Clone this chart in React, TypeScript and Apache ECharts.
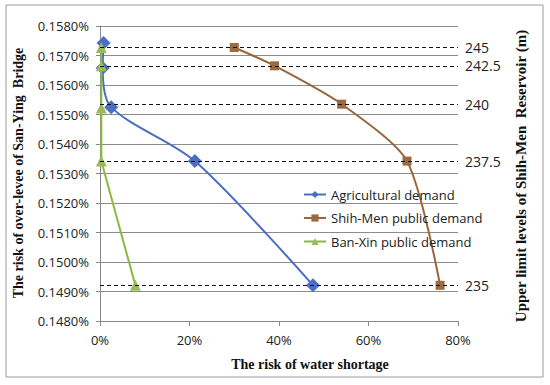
import React, { useEffect, useRef } from "react";
import * as echarts from "echarts";

// risk of water shortage (%) and risk of over-levee (%) per reservoir upper limit level
const agriX = [0.8, 0.6, 2.5, 21.2, 47.6];
const agriY = [0.15742, 0.15658, 0.15525, 0.15342, 0.14921];
const shihX = [30.0, 39.0, 54.0, 68.6, 76.0];
const shihY = [0.15727, 0.15665, 0.15535, 0.15342, 0.14921];
const banX = [0.3, 0.3, 0.3, 0.3, 7.9];
const banY = [0.15727, 0.15665, 0.15522, 0.15342, 0.14921];
const levels = ["245", "242.5", "240", "237.5", "235"];
const levelY = [0.15727, 0.15665, 0.15535, 0.15342, 0.14921];
const seriesNames = ["Agricultural demand", "Shih-Men public demand", "Ban-Xin public demand"];

const zip = (xs: number[], ys: number[]) => xs.map((x, i) => [x, ys[i]]);

export default function App() {
  const ref = useRef<HTMLDivElement>(null);
  useEffect(() => {
    if (!ref.current) return;
    const chart = echarts.init(ref.current, undefined, { renderer: "svg" });
    const tickFont = { fontFamily: "Open Sans", fontSize: 13, color: "#222" };
    const titleStyle = { fontFamily: "Liberation Serif", fontWeight: "bold" as const, fill: "#111" };
    chart.setOption({
      animation: false,
      backgroundColor: "#fff",
      grid: { left: 100, right: 92, top: 26, bottom: 64 },
      graphic: [
        {
          type: "rect",
          shape: { x: 6, y: 5, width: 537, height: 372 },
          style: { fill: "none", stroke: "#9a9a9a", lineWidth: 1 },
          silent: true,
        },
        {
          type: "text",
          x: 310,
          y: 364,
          style: { ...titleStyle, text: "The risk of water shortage", fontSize: 14, align: "center", verticalAlign: "middle" },
        },
        {
          type: "text",
          x: 18,
          y: 173,
          rotation: Math.PI / 2,
          style: { ...titleStyle, text: "The risk of over-levee of San-Ying  Bridge", fontSize: 14, align: "center", verticalAlign: "middle" },
        },
        {
          type: "text",
          x: 521,
          y: 176,
          rotation: Math.PI / 2,
          style: { ...titleStyle, text: "Upper limit levels of Shih-Men  Reservoir (m)", fontSize: 15, align: "center", verticalAlign: "middle" },
        },
      ],
      legend: {
        orient: "vertical",
        left: 298,
        top: 183,
        itemGap: 10.5,
        itemWidth: 22,
        itemHeight: 9,
        textStyle: { fontFamily: "Open Sans", fontSize: 13, color: "#222" },
        data: seriesNames,
      },
      xAxis: {
        type: "value",
        min: 0,
        max: 80,
        interval: 20,
        axisLine: { show: true, lineStyle: { color: "#888" } },
        axisTick: { show: true, length: 5, lineStyle: { color: "#888" } },
        axisLabel: { ...tickFont, formatter: "{value}%", margin: 12 },
        splitLine: { show: false },
      },
      yAxis: {
        type: "value",
        min: 0.148,
        max: 0.158,
        interval: 0.001,
        axisLine: { show: true, lineStyle: { color: "#888" } },
        axisTick: { show: true, length: 4, lineStyle: { color: "#888" } },
        axisLabel: { ...tickFont, formatter: (v: number) => v.toFixed(4) + "%", margin: 11 },
        splitLine: { show: true, lineStyle: { color: "#8c8c8c", width: 1 } },
      },
      series: [
        {
          name: seriesNames[0],
          type: "line",
          data: zip(agriX, agriY),
          smooth: 0.3,
          symbol: "diamond",
          symbolSize: 14,
          lineStyle: { color: "#4a6ec4", width: 2 },
          itemStyle: { color: "#4a6ec4" },
          z: 3,
          markLine: {
            silent: true,
            symbol: "none",
            precision: 6,
            lineStyle: { color: "#111", type: [4, 3], width: 1.2 },
            label: {
              show: true,
              position: "end",
              distance: 7,
              fontFamily: "Open Sans",
              fontSize: 14,
              color: "#222",
              formatter: (p: any) => levels[p.dataIndex],
            },
            data: levelY.map((y) => ({ yAxis: y })),
          },
        },
        {
          name: seriesNames[1],
          type: "line",
          data: zip(shihX, shihY),
          smooth: 0.25,
          symbol: "rect",
          symbolSize: 9,
          lineStyle: { color: "#9a653c", width: 2 },
          itemStyle: { color: "#9a6a40" },
          z: 3,
        },
        {
          name: seriesNames[2],
          type: "line",
          data: zip(banX, banY),
          smooth: false,
          symbol: "triangle",
          symbolSize: 11,
          lineStyle: { color: "#8db83f", width: 2 },
          itemStyle: { color: "#9bbb59" },
          z: 4,
        },
      ],
    });
    return () => chart.dispose();
  }, []);
  return <div ref={ref} style={{ position: "absolute", left: 0, top: 0, width: 550, height: 385 }} />;
}
